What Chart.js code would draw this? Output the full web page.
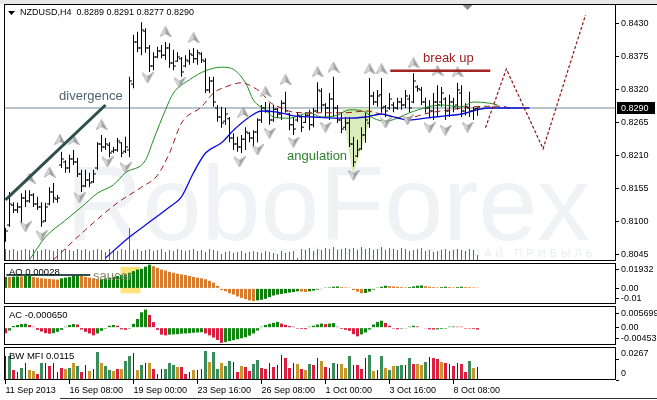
<!DOCTYPE html>
<html>
<head>
<meta charset="utf-8">
<title>NZDUSD H4</title>
<script src="https://cdn.jsdelivr.net/npm/chart.js@4.4.1/dist/chart.umd.min.js"></script>
<style>
  html, body { margin: 0; padding: 0; background: #fff; }
  #wrap { position: relative; width: 657px; height: 400px; overflow: hidden; background: #fff; }
  #wrap canvas { position: absolute; left: 0; }
</style>
</head>
<body>
<div id="wrap">
  <canvas id="main" width="657" height="262" style="top:0px"></canvas>
  <canvas id="ao" width="657" height="43" style="top:262px"></canvas>
  <canvas id="ac" width="657" height="41" style="top:305px"></canvas>
  <canvas id="mfi" width="657" height="54" style="top:346px"></canvas>
</div>
<script>
// ---- price data (H4 bars) ----
const symbol = 'NZDUSD,H4';
const opens = [
  .8080,.8095,.8128,.8120,.8125,.8140,.8135,.8145,.8130,.8125,
  .8102,.8130,.8150,.8138,.8195,.8200,.8190,.8205,.8200,.8180,
  .8160,.8170,.8167,.8190,.8230,.8225,.8228,.8218,.8220,.8232,
  .8218,.8220,.8330,.8400,.8390,.8418,.8390,.8360,.8375,.8385,
  .8378,.8390,.8365,.8368,.8372,.8360,.8368,.8378,.8372,.8380,
  .8368,.8320,.8335,.8290,.8275,.8268,.8272,.8240,.8230,.8225,
  .8238,.8248,.8240,.8250,.8270,.8290,.8285,.8270,.8288,.8280,
  .8298,.8280,.8262,.8270,.8275,.8266,.8278,.8262,.8285,.8318,
  .8295,.8290,.8305,.8290,.8270,.8258,.8265,.8230,.8210,.8222,
  .8245,.8265,.8310,.8300,.8312,.8292,.8290,.8295,.8290,.8300,
  .8295,.8305,.8300,.8325,.8320,.8300,.8290,.8285,.8300,.8300,
  .8305,.8285,.8300,.8295,.8315,.8285,.8290,.8285,.8289];
const highs = [
  .8090,.8150,.8133,.8132,.8148,.8153,.8153,.8148,.8142,.8133,
  .8132,.8158,.8165,.8145,.8217,.8203,.8212,.8220,.8207,.8187,
  .8187,.8182,.8187,.8233,.8245,.8240,.8233,.8225,.8240,.8233,
  .8242,.8342,.8412,.8417,.8433,.8423,.8395,.8383,.8392,.8395,
  .8400,.8398,.8387,.8383,.8375,.8378,.8387,.8390,.8387,.8383,
  .8373,.8342,.8342,.8295,.8292,.8290,.8275,.8248,.8242,.8245,
  .8258,.8250,.8253,.8273,.8295,.8300,.8298,.8295,.8290,.8303,
  .8317,.8282,.8275,.8282,.8278,.8283,.8287,.8290,.8333,.8323,
  .8298,.8315,.8342,.8295,.8283,.8275,.8275,.8242,.8237,.8258,
  .8282,.8340,.8317,.8320,.8340,.8295,.8315,.8300,.8307,.8307,
  .8320,.8312,.8348,.8328,.8325,.8307,.8303,.8315,.8328,.8325,
  .8308,.8312,.8307,.8332,.8328,.8298,.8317,.8292,.8291];
const lows = [
  .8067,.8092,.8115,.8115,.8098,.8125,.8132,.8125,.8120,.8092,
  .8100,.8128,.8132,.8132,.8190,.8182,.8182,.8195,.8175,.8150,
  .8158,.8158,.8165,.8187,.8217,.8220,.8208,.8215,.8217,.8208,
  .8215,.8208,.8323,.8383,.8378,.8382,.8350,.8353,.8373,.8373,
  .8370,.8357,.8353,.8367,.8342,.8358,.8362,.8365,.8362,.8365,
  .8315,.8315,.8292,.8267,.8257,.8262,.8233,.8220,.8217,.8215,
  .8220,.8233,.8225,.8233,.8265,.8282,.8262,.8267,.8273,.8270,
  .8282,.8253,.8245,.8267,.8250,.8265,.8253,.8258,.8282,.8283,
  .8275,.8270,.8275,.8265,.8248,.8253,.8225,.8192,.8208,.8220,
  .8232,.8257,.8295,.8292,.8282,.8275,.8287,.8283,.8287,.8287,
  .8290,.8283,.8298,.8317,.8295,.8282,.8275,.8270,.8275,.8292,
  .8270,.8275,.8283,.8287,.8275,.8278,.8275,.8270,.8277];
const closes = [
  .8085,.8130,.8120,.8125,.8140,.8135,.8145,.8130,.8125,.8100,
  .8125,.8150,.8140,.8140,.8205,.8190,.8205,.8200,.8180,.8160,
  .8170,.8165,.8180,.8230,.8225,.8230,.8215,.8220,.8235,.8215,
  .8225,.8335,.8400,.8390,.8420,.8390,.8360,.8375,.8385,.8378,
  .8390,.8365,.8360,.8375,.8350,.8370,.8380,.8372,.8382,.8370,
  .8320,.8335,.8300,.8275,.8265,.8280,.8240,.8230,.8225,.8238,
  .8250,.8240,.8250,.8270,.8290,.8285,.8270,.8288,.8280,.8298,
  .8285,.8262,.8255,.8278,.8258,.8278,.8262,.8285,.8320,.8295,
  .8290,.8305,.8290,.8270,.8255,.8265,.8230,.8200,.8220,.8245,
  .8270,.8310,.8300,.8310,.8290,.8285,.8305,.8290,.8300,.8295,
  .8310,.8290,.8335,.8322,.8300,.8290,.8285,.8300,.8295,.8315,
  .8285,.8300,.8292,.8320,.8285,.8292,.8285,.8288,.8290];
const volumes = [
  1200,1100,1200,1000,1100,1200,1100,1200,1000,1100,
  1200,1100,1000,1200,1100,1200,1100,1000,1200,1100,
  1200,1000,1100,1200,1100,900,1200,1100,1000,1200,
  1100,3300,1100,1200,1000,1100,1200,1000,1100,1200,
  900,1100,1000,1200,1100,1000,1100,1200,1000,1100,
  900,1200,1100,1000,700,900,1000,800,900,1000,
  800,900,1000,900,800,1000,900,800,700,1000,
  800,900,1000,300,1200,1100,1300,1000,1200,1100,
  1300,1200,1400,1100,1200,1300,1200,1300,1100,1400,
  1200,1300,1100,1200,1400,1100,1300,1200,1100,1300,
  1200,1000,1100,1200,1300,1000,1100,900,1000,1100,
  1200,1000,1100,1200,1100,1000,1200,1100,600];

// Alligator (already shifted forward)
const jawIdx = [25,31,35,41,44,47,50,54,57,61,64,68,72,77,85,90,94,97,101,105,110,114,118,121,131];
const jawVal = [.8040,.8075,.8095,.8125,.8142,.8182,.8215,.8232,.8253,.8275,.8285,.8283,.8277,.8275,.8273,.8275,.8280,.8275,.8270,.8273,.8277,.8280,.8287,.8290,.8290];
const teethIdx = [12,20,28,34,38,41,44,49,52,55,59,61,64,66,69,72,76,82,85,90,95,100,106,111,117,124,126];
const teethVal = [.8037,.8087,.8132,.8158,.8178,.8215,.8265,.8292,.8315,.8325,.8332,.8328,.8315,.8300,.8290,.8283,.8282,.8282,.8282,.8285,.8278,.8273,.8282,.8287,.8292,.8293,.8290];
const lipsIdx = [6,10,15,19,23,27,30,35,37,40,42,46,50,54,56,60,62,65,67,71,76,79,83,86,90,92,95,98,101,109,114,117,121,123];
const lipsVal = [.8037,.8075,.8103,.8125,.8148,.8162,.8182,.8203,.8237,.8287,.8315,.8337,.8352,.8358,.8357,.8332,.8303,.8287,.8275,.8273,.8282,.8275,.8278,.8287,.8283,.8273,.8268,.8273,.8282,.8295,.8292,.8300,.8298,.8295];

// fractals
const fractUpIdx = [6,11,13.6,17,24,40,47,59.4,65,70,78,82,91,94,102,108,113];
const fractUpVal = [.8173,.8183,.8237,.8237,.8262,.8417,.8407,.8283,.8317,.8337,.8350,.8358,.8355,.8355,.8365,.8352,.8350];
const fractDnIdx = [5,9,18.5,25.5,30,35.5,43.5,58.5,63,66,72,80,87,95,100.5,106,110,115.5];
const fractDnVal = [.8092,.8077,.8140,.8200,.8190,.8340,.8332,.8200,.8220,.8248,.8233,.8258,.8178,.8265,.8270,.8257,.8253,.8258];

// drawn analysis
const divergenceIdx = [0, 25];
const divergenceVal = [.8137, .8295];
const breakUpIdx = [96.2, 121.2];
const breakUpVal = [.8352, .8352];
const forecastIdx = [120, 125.2, 134.4, 145];
const forecastVal = [.8257, .8355, .8222, .8445];
const angIdx = [84.1, 86.9, 92.1];
const angVal = [.8290, .8178, .8290];
const angBase = .8290;
const noteText = ['divergence', 'break up', 'angulation'];
const noteIdx = [13.4, 104.4, 70.4];
const noteVal = [.8310, .8373, .8210];
const shiftIdx = 115.5;

const priceTicks = [.8430, .8375, .8320, .8265, .8210, .8155, .8100, .8045];
const dateTickIdx = [0, 16, 32, 48, 64, 80, 96, 112];
const dateLabels = ['11 Sep 2013', '16 Sep 08:00', '19 Sep 00:00', '23 Sep 16:00', '26 Sep 08:00', '1 Oct 00:00', '3 Oct 16:00', '8 Oct 08:00'];

// ---- oscillators ----
const aoTitle = 'AO 0.00028';
const aoValues = [
  .0117,.0117,.0120,.0123,.0123,.0127,.0130,.0117,.0110,.0103,
  .0100,.0097,.0093,.0090,.0103,.0110,.0117,.0127,.0137,.0127,
  .0117,.0110,.0103,.0093,.0095,.0103,.0110,.0117,.0127,.0137,
  .0143,.0160,.0177,.0193,.0200,.0223,.0243,.0227,.0210,.0193,
  .0183,.0170,.0160,.0150,.0143,.0137,.0127,.0117,.0110,.0103,
  .0093,.0077,.0060,.0025,-.0017,-.0030,-.0050,-.0063,-.0083,-.0097,
  -.0110,-.0123,-.0130,-.0123,-.0117,-.0107,-.0090,-.0073,-.0063,-.0057,
  -.0050,-.0043,-.0037,-.0030,-.0033,-.0037,-.0030,-.0023,-.0013,-.0008,
  .0008,.0010,.0017,.0020,.0013,.0010,.0008,-.0017,-.0033,-.0050,
  -.0047,-.0033,-.0013,.0008,.0017,.0027,.0023,.0020,.0017,.0013,
  .0010,.0013,.0020,.0027,.0030,.0023,.0017,.0013,.0010,.0013,
  .0017,.0013,.0010,.0013,.0017,.0013,.0012,.0010,.0008];
const aoTicks = [0.01932, 0, -0.01];
const aoTickLabels = ['0.01932', '0.00', '-0.01'];
const saucerIdx = [0.2, 21.2];
const saucerVal = [0.0137, 0.0137];
const saucerBoxIdx = [28.75, 33.75];
const saucerBoxVal = [0.022, -0.005];
const saucerNote = { text: 'saucer', idx: 21.9, val: 0.012 };

const acTitle = 'AC -0.000650';
const acValues = [
  -.0023,-.0012,.0007,.0011,.0015,.0016,.0011,.0004,-.0009,-.0016,
  -.0023,-.0025,-.0023,-.0017,-.0009,.0004,.0011,.0015,.0013,-.0008,
  -.0017,-.0024,-.0032,-.0024,-.0013,-.0004,.0008,.0011,.0008,-.0007,
  -.0009,-.0004,.0016,.0036,.0064,.0075,.0053,.0023,-.0009,-.0029,
  -.0032,-.0029,-.0028,-.0027,-.0025,-.0024,-.0023,-.0021,-.0020,-.0019,
  -.0024,-.0032,-.0041,-.0051,-.0063,-.0060,-.0056,-.0052,-.0048,-.0044,
  -.0040,-.0033,-.0024,-.0012,.0004,.0011,.0016,.0020,.0024,.0017,
  .0012,.0007,.0004,-.0004,-.0005,-.0006,.0004,.0008,.0013,.0017,
  .0015,.0017,.0019,.0004,-.0005,-.0009,-.0013,-.0027,-.0036,-.0028,
  -.0020,-.0008,.0013,.0024,.0029,.0020,.0008,-.0004,-.0007,-.0004,
  -.0003,.0004,.0008,.0005,.0002,-.0003,-.0007,-.0008,-.0007,-.0005,
  -.0004,.0004,.0005,.0004,.0004,-.0004,-.0004,-.0005,-.0008];
const acTicks = [0.005699, 0, -0.00453];
const acTickLabels = ['0.005699', '0.00', '-0.00453'];

const mfiTitle = 'BW MFI 0.0115';
const mfiValues = [
  .0319,.0319,.0133,.0106,.0160,.0226,.0133,.0120,.0080,.0226,
  .0226,.0186,.0226,.0106,.0160,.0146,.0160,.0226,.0186,.0106,
  .0200,.0120,.0146,.0372,.0226,.0186,.0133,.0120,.0146,.0146,
  .0253,.0319,.0359,.0133,.0200,.0226,.0226,.0146,.0080,.0146,
  .0146,.0226,.0200,.0173,.0173,.0080,.0106,.0133,.0133,.0146,
  .0386,.0239,.0372,.0146,.0226,.0186,.0253,.0239,.0106,.0186,
  .0173,.0120,.0213,.0266,.0160,.0146,.0226,.0173,.0200,.0333,
  .0293,.0160,.0226,.0213,.0146,.0133,.0213,.0200,.0293,.0253,
  .0173,.0160,.0226,.0213,.0213,.0160,.0319,.0200,.0200,.0146,
  .0293,.0333,.0120,.0133,.0319,.0160,.0133,.0186,.0186,.0200,
  .0200,.0293,.0213,.0213,.0200,.0239,.0306,.0293,.0280,.0239,
  .0226,.0213,.0186,.0226,.0213,.0106,.0253,.0160,.0173];
// g = green, o = fade, r = squat, b = fake
const mfiKinds = ('bgrbgboorg' + 'brbbrogogr' + 'bobgoggoro' + 'ggbogborbb' + 'gggorrbobb' + 'goggoggbro' +
  'rrggrrbrbb' + 'rrborogrbo' + 'rbgboogbrr' + 'bgobgogogg' + 'bgroogbrro' + 'rbrbrrgob').split('');
const mfiTicks = [0.0267, 0];
const mfiTickLabels = ['0.0267', '0'];

// ---- setup ----
const FONT = '"Liberation Sans", Arial, sans-serif';
Chart.defaults.font.family = FONT;
Chart.defaults.font.size = 9;
Chart.defaults.color = '#000';
Chart.defaults.animation = false;
Chart.defaults.responsive = false;
Chart.defaults.events = [];
Chart.defaults.plugins.legend.display = false;
Chart.defaults.plugins.tooltip.enabled = false;

const xMin = -0.375, xMax = 152.625;
const pts = (xs, ys) => xs.map((x, i) => ({ x: x, y: ys[i] }));
const last = closes.length - 1;

// scales never ask for extra room for their labels
function noPad(sc) {
  sc.paddingTop = 0; sc.paddingBottom = 0; sc.paddingLeft = 0; sc.paddingRight = 0;
}

function xScale(show) {
  const s = {
    type: 'linear', min: xMin, max: xMax, offset: false, display: show,
    grid: { offset: false, drawOnChartArea: false, tickLength: 4, color: '#000' },
    border: { display: false },
    afterFit: sc => { noPad(sc); }
  };
  if (show) {
    s.afterBuildTicks = sc => { sc.ticks = dateTickIdx.map(v => ({ value: v })); };
    s.afterFit = sc => { sc.height = 20; noPad(sc); };
    s.ticks = { align: 'start', padding: 1, maxRotation: 0, autoSkip: false,
      callback: v => dateLabels[dateTickIdx.indexOf(v)] };
  }
  return s;
}

function yScale(min, max, tickVals, tickLabels, extraTicks) {
  return {
    type: 'linear', position: 'right', min: min, max: max,
    afterFit: sc => { sc.width = 41; noPad(sc); },
    afterBuildTicks: sc => { sc.ticks = tickVals.map(v => ({ value: v })); },
    grid: { drawOnChartArea: false, tickLength: 3, color: '#000' },
    border: { display: false },
    ticks: Object.assign({ padding: 2, autoSkip: false, callback: (v, i) => tickLabels[i] }, extraTicks || {})
  };
}

function drawFrame(chart) {
  const { ctx, chartArea: a } = chart;
  ctx.save();
  ctx.strokeStyle = '#000';
  ctx.lineWidth = 1;
  ctx.strokeRect(a.left + 0.5, a.top + 0.5, a.right - a.left - 1, a.bottom - a.top - 1);
  ctx.restore();
}

function panelTitle(chart, text) {
  const { ctx, chartArea: a } = chart;
  ctx.save();
  ctx.font = '9.5px ' + FONT;
  ctx.fillStyle = '#000';
  ctx.textBaseline = 'middle';
  ctx.fillText(text, a.left + 5, a.top + 9);
  ctx.restore();
}

// gray Bill Williams fractal arrows
function arrowImg(up) {
  const c = document.createElement('canvas');
  c.width = 12; c.height = 11;
  const g = c.getContext('2d');
  if (!up) { g.translate(0, 11); g.scale(1, -1); }
  g.beginPath();
  g.moveTo(6, 0.5); g.lineTo(11.5, 10.5); g.lineTo(6, 7); g.lineTo(0.5, 10.5); g.closePath();
  const gr = g.createLinearGradient(0, 0, 12, 0);
  gr.addColorStop(0, '#fbfbfb');
  gr.addColorStop(0.48, '#d8d8d8');
  gr.addColorStop(0.52, '#a8a8a8');
  gr.addColorStop(1, '#8a8a8a');
  g.fillStyle = gr;
  g.fill();
  g.strokeStyle = '#979797';
  g.lineWidth = 0.8;
  g.stroke();
  return c;
}
const upArrow = arrowImg(true);
const downArrow = arrowImg(false);

// ---- main price panel ----
const mainDeco = {
  id: 'mainDeco',
  beforeDatasetsDraw(chart) {
    const { ctx, chartArea: a } = chart;
    ctx.save();
    ctx.beginPath();
    ctx.rect(a.left, a.top, a.right - a.left, a.bottom - a.top);
    ctx.clip();
    ctx.fillStyle = '#f0f2f6';
    ctx.font = '106px ' + FONT;
    ctx.textBaseline = 'alphabetic';
    ctx.fillText('RoboForex', 66, 240);
    ctx.font = '11px ' + FONT;
    ctx.letterSpacing = '4px';
    ctx.textAlign = 'right';
    ctx.fillStyle = '#e9ecf0';
    ctx.fillText('ТОРГУЙ ПРОСТО – ПОЛУЧАЙ ПРИБЫЛЬ', 597, 257);
    ctx.restore();
  },
  afterDraw(chart) {
    const { ctx, chartArea: a, scales } = chart;
    drawFrame(chart);
    ctx.save();
    ctx.fillStyle = '#e8e8e8';
    ctx.fillRect(0, 0, chart.width, a.top);
    ctx.fillStyle = '#000';
    ctx.fillRect(a.right, a.top, chart.width - a.right, 1);
    // header
    ctx.beginPath();
    ctx.moveTo(8, 11); ctx.lineTo(15, 11); ctx.lineTo(11.5, 15); ctx.closePath();
    ctx.fill();
    ctx.font = '9px ' + FONT;
    ctx.textBaseline = 'middle';
    ctx.textAlign = 'left';
    const ohlc = [opens[last], highs[last], lows[last], closes[last]].map(v => v.toFixed(4)).join(' ');
    ctx.fillText(symbol + '  ' + ohlc, 20, 12.5);
    // notes
    ctx.font = '13px ' + FONT;
    noteText.forEach((t, i) => {
      ctx.fillStyle = ['#4b6572', '#a11e22', '#2f7f2f'][i];
      ctx.fillText(t, scales.x.getPixelForValue(noteIdx[i]), scales.y.getPixelForValue(noteVal[i]));
    });
    // current price box
    const py = Math.round(scales.y.getPixelForValue(closes[last]));
    ctx.fillStyle = '#000';
    ctx.fillRect(a.right + 1, py - 6, 38, 12);
    ctx.fillStyle = '#fff';
    ctx.font = '9px ' + FONT;
    ctx.fillText(closes[last].toFixed(4), a.right + 5, py + 0.5);
    // chart shift marker
    const sx = scales.x.getPixelForValue(shiftIdx);
    ctx.fillStyle = '#8c8c8c';
    ctx.beginPath();
    ctx.moveTo(sx - 5, a.top + 1); ctx.lineTo(sx + 5, a.top + 1); ctx.lineTo(sx, a.top + 6); ctx.closePath();
    ctx.fill();
    ctx.restore();
  }
};

const barIdx = closes.map((_, i) => i);

new Chart(document.getElementById('main'), {
  type: 'bar',
  data: {
    datasets: [
      { type: 'line', data: [{ x: xMin, y: closes[last] }, { x: xMax, y: closes[last] }],
        borderColor: '#70879a', borderWidth: 1, pointRadius: 0, order: 30 },
      { type: 'line', data: pts(angIdx, angVal), fill: { value: angBase },
        backgroundColor: 'rgba(212,232,176,0.85)', borderWidth: 0, pointRadius: 0, order: 25 },
      { type: 'bar', yAxisID: 'yVol', data: pts(barIdx, volumes), backgroundColor: '#1e9a1e',
        barThickness: 1, grouped: false, inflateAmount: 0, order: 20 },
      { type: 'bar', data: barIdx.map(i => ({ x: i, y: [lows[i], highs[i]] })), backgroundColor: '#000',
        barThickness: 1, grouped: false, inflateAmount: 0, order: 6 },
      { type: 'scatter', data: barIdx.map(i => ({ x: i - 0.375, y: opens[i] })), pointStyle: 'line',
        pointRadius: 1, borderWidth: 1, borderColor: '#000', pointBorderColor: '#000', order: 6 },
      { type: 'scatter', data: barIdx.map(i => ({ x: i + 0.375, y: closes[i] })), pointStyle: 'line',
        pointRadius: 1, borderWidth: 1, borderColor: '#000', pointBorderColor: '#000', order: 6 },
      { type: 'line', data: pts(jawIdx, jawVal), borderColor: '#0c0cd8', borderWidth: 1.3,
        pointRadius: 0, cubicInterpolationMode: 'monotone', order: 4 },
      { type: 'line', data: pts(teethIdx, teethVal), borderColor: '#9e1a1a', borderWidth: 1,
        borderDash: [6, 4], pointRadius: 0, cubicInterpolationMode: 'monotone', order: 4 },
      { type: 'line', data: pts(lipsIdx, lipsVal), borderColor: '#1f8a1f', borderWidth: 1,
        pointRadius: 0, cubicInterpolationMode: 'monotone', order: 4 },
      { type: 'scatter', data: pts(fractUpIdx, fractUpVal), pointStyle: upArrow, pointRadius: 5, order: 3 },
      { type: 'scatter', data: pts(fractDnIdx, fractDnVal), pointStyle: downArrow, pointRadius: 5, order: 3 },
      { type: 'line', data: pts(divergenceIdx, divergenceVal), borderColor: '#2f4f4f', borderWidth: 3,
        pointRadius: 0, order: 1 },
      { type: 'line', data: pts(breakUpIdx, breakUpVal), borderColor: '#a32424', borderWidth: 2.5,
        pointRadius: 0, order: 1 },
      { type: 'line', data: pts(forecastIdx, forecastVal), borderColor: '#8b1414', borderWidth: 1.2,
        borderDash: [3, 2], pointRadius: 0, order: 1 }
    ]
  },
  options: {
    layout: { padding: { left: 4, right: 0, top: 4, bottom: 1 }, autoPadding: false },
    scales: {
      x: xScale(false),
      y: yScale(0.8035, 0.84633, priceTicks, priceTicks.map(v => v.toFixed(4))),
      yVol: { type: 'linear', display: false, position: 'left', min: 0, max: 25700 }
    }
  },
  plugins: [mainDeco]
});

// ---- Awesome Oscillator ----
const aoColors = aoValues.map((v, i) => (i === 0 || v > aoValues[i - 1]) ? '#0d7d0d' : '#d77b2f');

new Chart(document.getElementById('ao'), {
  type: 'bar',
  data: {
    datasets: [
      { data: pts(barIdx, aoValues), backgroundColor: aoColors, barThickness: 3,
        grouped: false, inflateAmount: 0, order: 5 },
      { type: 'line', data: pts(saucerIdx, saucerVal), borderColor: '#2f4f4f', borderWidth: 2,
        pointRadius: 0, order: 1 }
    ]
  },
  options: {
    layout: { padding: { left: 4, right: 0, top: 1, bottom: 1 }, autoPadding: false },
    scales: { x: xScale(false), y: yScale(-0.016, 0.026, aoTicks, aoTickLabels) }
  },
  plugins: [{
    id: 'aoDeco',
    beforeDatasetsDraw(chart) {
      const { ctx, scales: { x, y } } = chart;
      const x0 = x.getPixelForValue(saucerBoxIdx[0]), x1 = x.getPixelForValue(saucerBoxIdx[1]);
      const y0 = y.getPixelForValue(saucerBoxVal[0]), y1 = y.getPixelForValue(saucerBoxVal[1]);
      ctx.save();
      ctx.fillStyle = '#ffe37c';
      ctx.fillRect(x0, y0, x1 - x0, y1 - y0);
      ctx.restore();
    },
    afterDraw(chart) {
      const { ctx, scales: { x, y } } = chart;
      drawFrame(chart);
      panelTitle(chart, aoTitle);
      ctx.save();
      ctx.font = '13px ' + FONT;
      ctx.fillStyle = '#85856a';
      ctx.textBaseline = 'middle';
      ctx.fillText(saucerNote.text, x.getPixelForValue(saucerNote.idx), y.getPixelForValue(saucerNote.val));
      ctx.restore();
    }
  }]
});

// ---- Accelerator Oscillator ----
const acColors = acValues.map((v, i) => (i > 0 && v > acValues[i - 1]) ? '#108510' : '#d81b3e');

new Chart(document.getElementById('ac'), {
  type: 'bar',
  data: {
    datasets: [
      { data: pts(barIdx, acValues), backgroundColor: acColors, barThickness: 3,
        grouped: false, inflateAmount: 0 }
    ]
  },
  options: {
    layout: { padding: { left: 4, right: 0, top: 1, bottom: 1 }, autoPadding: false },
    scales: { x: xScale(false), y: yScale(-0.0072, 0.009, acTicks, acTickLabels) }
  },
  plugins: [{
    id: 'acDeco',
    afterDraw(chart) { drawFrame(chart); panelTitle(chart, acTitle); }
  }]
});

// ---- BW Market Facilitation Index ----
const mfiColor = { g: '#3a8c5c', o: '#c6972a', r: '#dc1e40', b: '#1a1a8c' };
const thickIdx = barIdx.filter(i => mfiKinds[i] !== 'b');
const thinIdx = barIdx.filter(i => mfiKinds[i] === 'b');

new Chart(document.getElementById('mfi'), {
  type: 'bar',
  data: {
    datasets: [
      { data: thickIdx.map(i => ({ x: i, y: mfiValues[i] })),
        backgroundColor: thickIdx.map(i => mfiColor[mfiKinds[i]]),
        barThickness: 3, grouped: false, inflateAmount: 0 },
      { data: thinIdx.map(i => ({ x: i, y: mfiValues[i] })),
        backgroundColor: mfiColor.b, barThickness: 1, grouped: false, inflateAmount: 0 }
    ]
  },
  options: {
    layout: { padding: { left: 4, right: 0, top: 1, bottom: 0 }, autoPadding: false },
    scales: { x: xScale(true), y: yScale(0, 0.0439, mfiTicks, mfiTickLabels, { labelOffset: -6 }) }
  },
  plugins: [{
    id: 'mfiDeco',
    afterDraw(chart) {
      const { ctx } = chart;
      drawFrame(chart);
      panelTitle(chart, mfiTitle);
      ctx.save();
      ctx.fillStyle = '#333';
      ctx.fillRect(60, chart.height - 2, chart.width - 60, 1);
      ctx.restore();
    }
  }]
});
</script>
</body>
</html>
